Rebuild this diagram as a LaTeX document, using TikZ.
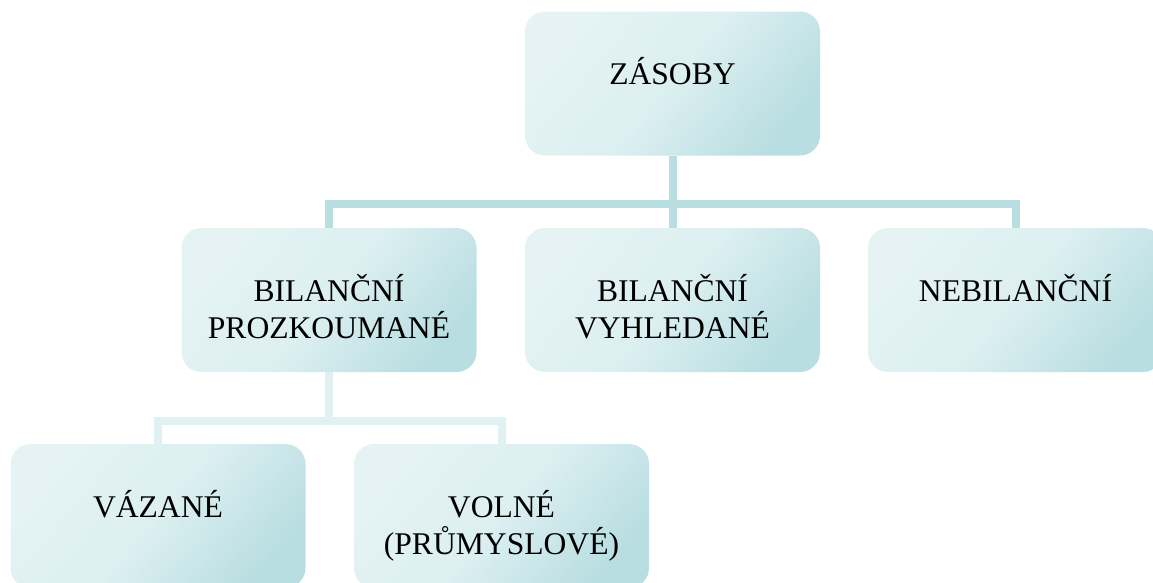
\documentclass[tikz,border=0pt]{standalone}
\usepackage{fontspec}
\setmainfont{Liberation Serif}
\definecolor{boxlight}{HTML}{E5F3F4}
\definecolor{boxmid}{HTML}{DCEFF1}
\definecolor{boxdark}{HTML}{B9DEE1}
\definecolor{connA}{HTML}{B9DEE1}
\definecolor{connB}{HTML}{E0F1F2}
\pgfdeclarelayer{bg}
\pgfsetlayers{bg,main}
\tikzset{
  box/.style={shape=rectangle, rounded corners=20pt, inner sep=0pt,
    minimum width=295pt, minimum height=144pt,
    top color=boxlight, bottom color=boxdark, middle color=boxmid, shading angle=50,
    align=center, text height=2pt, text depth=0pt,
    font=\fontsize{31.6}{37.5}\selectfont},
  twoline/.style={text height=77pt, text depth=0pt},
  connU/.style={draw=connA, line width=8pt},
  connL/.style={draw=connB, line width=8pt},
}
\begin{document}
\begin{tikzpicture}[x=1pt,y=-1pt]
\useasboundingbox (0,0) rectangle (1153,582);
\node[box] (zas) at (672.5,83.5) {ZÁSOBY};
\node[box, twoline] (bp) at (329,300) {BILANČNÍ\\PROZKOUMANÉ};
\node[box, twoline] (bv) at (672.5,300) {BILANČNÍ\\VYHLEDANÉ};
\node[box] (nb) at (1015.5,300) {NEBILANČNÍ};
\node[box] (vaz) at (158,516) {VÁZANÉ};
\node[box, twoline] (vol) at (501.5,516) {VOLNÉ\\(PRŮMYSLOVÉ)};
\coordinate (j1) at (672.5,204);
\coordinate (j2) at (329,421);
\begin{pgfonlayer}{bg}
\draw[connU] (zas.south) -- (j1);
\draw[connU] (j1) -| (bp.north);
\draw[connU] (j1) -| (nb.north);
\draw[connU] (j1) -- (bv.north);
\draw[connL] (bp.south) -- (j2);
\draw[connL] (j2) -| (vaz.north);
\draw[connL] (j2) -| (vol.north);
\end{pgfonlayer}
\end{tikzpicture}
\end{document}
